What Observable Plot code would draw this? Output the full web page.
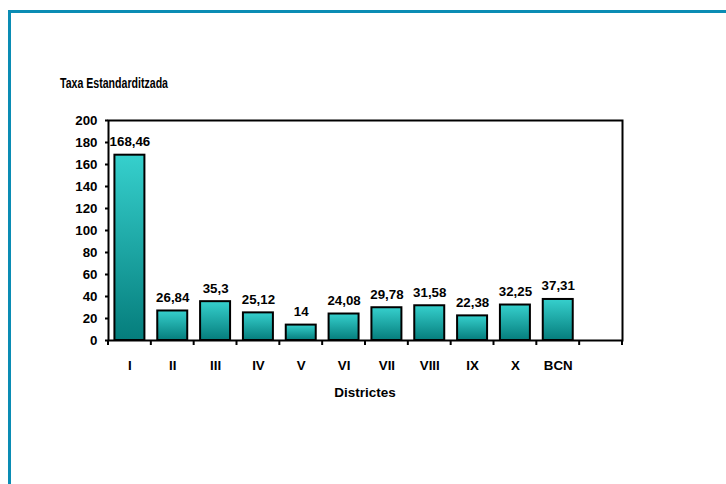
<!DOCTYPE html>
<html>
<head>
<meta charset="utf-8">
<script src="https://cdn.jsdelivr.net/npm/d3@7"></script>
<script src="https://cdn.jsdelivr.net/npm/@observablehq/plot@0.6"></script>
<style>
  html, body { margin: 0; padding: 0; background: #fff; }
  #wrap { position: relative; width: 726px; height: 484px; overflow: hidden; }
  #frame { position: absolute; left: 8px; top: 10px; width: 760px; height: 520px;
           border-left: 3px solid #0a8cb4; border-top: 3px solid #0a8cb4; box-sizing: border-box; }
  #chart { position: absolute; left: 0; top: 0; }
  svg text { font-family: "Liberation Sans", Arial, sans-serif; font-weight: bold; }
</style>
</head>
<body>
<div id="wrap">
  <div id="frame"></div>
  <div id="chart"></div>
</div>
<script>
// Standardised rate per district (Barcelona)
const districts = ["I", "II", "III", "IV", "V", "VI", "VII", "VIII", "IX", "X", "BCN"];
const rates = [168.46, 26.84, 35.3, 25.12, 14, 24.08, 29.78, 31.58, 22.38, 32.25, 37.31];
const yTicks = [0, 20, 40, 60, 80, 100, 120, 140, 160, 180, 200];
const slots = [...districts, " "]; // trailing empty category slot

const data = districts.map((d, i) => ({district: d, rate: rates[i]}));
const fmt = v => String(v).replace(".", ",");

const plot = Plot.plot({
  width: 726,
  height: 484,
  marginLeft: 108,
  marginRight: 104,
  marginTop: 120,
  marginBottom: 144,
  style: {fontFamily: "Liberation Sans, Arial, sans-serif", fontSize: "13.3px", fontWeight: "bold", color: "#000", background: "transparent"},
  x: {domain: slots, paddingInner: 0.3, paddingOuter: 0.15, round: false, label: null},
  y: {domain: [0, 200], label: null},
  marks: [
    Plot.barY(data, {x: "district", y: "rate", fill: "url(#barGrad)", stroke: "#000", strokeWidth: 2}),
    Plot.text(data, {x: "district", y: "rate", text: d => fmt(d.rate), lineAnchor: "bottom", dy: -9, fontSize: 13.3, fontWeight: "bold", fill: "#000"}),
    Plot.axisY({ticks: yTicks, tickSize: 3, tickPadding: 8, tickFormat: d => d, strokeWidth: 2, fontSize: 13.3}),
    Plot.axisX({tickSize: 0, tickPadding: 20, fontSize: 13.3}),
    Plot.frame({stroke: "#000", strokeWidth: 2})
  ]
});

document.getElementById("chart").appendChild(plot);

const svg = d3.select(plot);
const defs = svg.insert("defs", ":first-child");
const grad = defs.append("linearGradient")
  .attr("id", "barGrad").attr("x1", 0).attr("y1", 0).attr("x2", 0).attr("y2", 1);
grad.append("stop").attr("offset", "0%").attr("stop-color", "#36d0cd");
grad.append("stop").attr("offset", "100%").attr("stop-color", "#057d7c");

// Category boundary ticks below the x axis
const xs = plot.scale("x");
const ys = plot.scale("y");
const y0 = ys.apply(0);
const bounds = slots.map(s => xs.apply(s) - (xs.step - xs.bandwidth) / 2);
bounds.push(bounds[bounds.length - 1] + xs.step);
svg.append("g").attr("stroke", "#000").attr("stroke-width", 2)
  .selectAll("line").data(bounds).join("line")
  .attr("x1", d => d).attr("x2", d => d).attr("y1", y0).attr("y2", y0 + 5);

// Axis titles (the y title is set in a condensed face)
svg.append("text").attr("x", 60).attr("y", 88).attr("text-anchor", "start")
  .attr("font-size", 14).attr("textLength", 108).attr("lengthAdjust", "spacingAndGlyphs")
  .text("Taxa Estandarditzada");
svg.append("text").attr("x", (bounds[0] + bounds[bounds.length - 1]) / 2).attr("y", 397)
  .attr("text-anchor", "middle").attr("font-size", 13.5).text("Districtes");
</script>
</body>
</html>
